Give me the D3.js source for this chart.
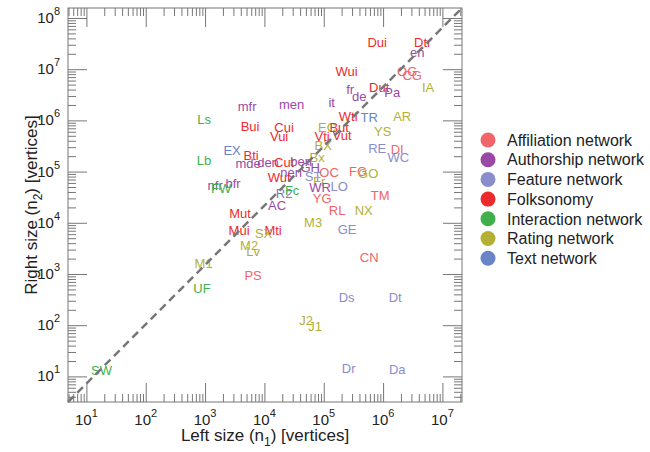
<!DOCTYPE html>
<html>
<head>
<meta charset="utf-8">
<script src="https://cdn.jsdelivr.net/npm/d3@7"></script>
<style>
  body { margin: 0; background: #fff; }
  svg { font-family: "Liberation Sans", Arial, Helvetica, sans-serif; }
</style>
</head>
<body>
<svg id="chart" width="650" height="452"></svg>
<script>
// network categories (legend order)
const categories = ["Affiliation network", "Authorship network", "Feature network",
                    "Folksonomy", "Interaction network", "Rating network", "Text network"];

// dataset codes, left size n1, right size n2, category index
const labels = ["Dui", "Dtr", "en", "OG", "CG", "IA", "Wui", "Dut", "Pa", "fr", "de", "it",
                "men", "mfr", "Ls", "Bui", "Cui", "Vui", "Wti", "TR", "AR", "YS", "EC", "But",
                "Vti", "Vut", "BX", "RE", "DI", "WC", "EX", "Lb", "Bti", "mde", "den", "Cut",
                "ben", "GH", "Bx", "nen", "Wut", "FG", "GO", "OC", "ST", "Fr", "WR", "LO",
                "YG", "TM", "RL", "NX", "M3", "GE", "CN", "Ds", "Dt", "J2", "J1", "Dr",
                "Da", "AC", "R2", "Fc", "bfr", "nfr", "FW", "Mut", "Mui", "Mti", "SX", "M2",
                "Lv", "M1", "UF", "PS", "SW"];
const leftSize = [7.96e5, 4.66e6, 3.76e6, 2.55e6, 3.10e6, 5.75e6, 2.43e5, 8.59e5, 1.43e6, 2.79e5, 3.95e5, 1.36e5,
                  2.88e4, 5.11e3, 962, 5.74e3, 2.15e4, 1.77e4, 2.58e5, 5.83e5, 2.10e6, 9.84e5, 1.14e5, 1.82e5,
                  9.40e4, 2.04e5, 9.77e4, 7.96e5, 1.73e6, 1.80e6, 2.85e3, 962, 5.97e3, 5.31e3, 1.15e4, 2.15e4,
                  4.16e4, 5.90e4, 7.74e4, 2.82e4, 1.77e4, 3.80e5, 5.61e5, 1.23e5, 6.62e4, 8.36e4, 8.69e4, 1.82e5,
                  9.40e4, 8.93e5, 1.68e5, 4.71e5, 6.62e4, 2.48e5, 5.83e5, 2.43e5, 1.60e6, 5.05e4, 7.16e4, 2.63e5,
                  1.73e6, 1.64e4, 2.15e4, 2.93e4, 2.97e3, 1.48e3, 1.86e3, 3.89e3, 3.74e3, 1.40e4, 9.70e3, 5.52e3,
                  6.44e3, 944, 889, 6.44e3, 18];
const rightSize = [3.32e7, 3.32e7, 2.12e7, 9.23e6, 7.53e6, 4.49e6, 9.23e6, 4.40e6, 3.59e6, 4.10e6, 3.00e6, 2.24e6,
                   2.09e6, 1.87e6, 1.06e6, 7.60e5, 7.26e5, 4.95e5, 1.19e6, 1.16e6, 1.19e6, 6.21e5, 7.43e5, 7.26e5,
                   4.95e5, 5.19e5, 3.31e5, 2.83e5, 2.70e5, 1.88e5, 2.64e5, 1.65e5, 2.11e5, 1.47e5, 1.54e5, 1.54e5,
                   1.61e5, 1.20e5, 1.88e5, 9.82e4, 7.85e4, 1.00e5, 9.39e4, 9.82e4, 8.02e4, 6.55e4, 5.00e4, 5.23e4,
                   3.05e4, 3.49e4, 1.78e4, 1.74e4, 1.04e4, 7.57e3, 2.15e3, 356, 356, 127, 94.4, 14.3,
                   14.0, 2.18e4, 3.82e4, 4.38e4, 5.86e4, 5.36e4, 4.70e4, 1.55e4, 7.23e3, 7.23e3, 6.32e3, 3.68e3,
                   2.81e3, 1.61e3, 521, 955, 13.3];
const networkType = [3, 3, 1, 0, 0, 5, 3, 3, 1, 1, 1, 1,
                     1, 1, 4, 3, 3, 3, 3, 6, 5, 5, 5, 3,
                     3, 3, 5, 2, 0, 2, 6, 4, 3, 1, 1, 3,
                     1, 1, 5, 1, 3, 0, 5, 0, 2, 5, 1, 2,
                     0, 0, 0, 5, 5, 2, 0, 2, 2, 5, 5, 2,
                     2, 1, 6, 4, 1, 1, 4, 3, 3, 3, 5, 5,
                     5, 5, 4, 0, 4];

// axis extents (vertices)
const xExtent = [Math.pow(10, 0.69), Math.pow(10, 7.33)];
const yExtent = [Math.pow(10, 0.5), Math.pow(10, 8.195)];

const colors = ["#f0646a", "#9a48a6", "#8a8ccc", "#ec2a2c", "#3fb04b", "#b3af33", "#6a84c8"];

const pLeft = 68, pRight = 462, pTop = 8, pBottom = 402;
const svg = d3.select("#chart");

let x = d3.scaleLog().domain(xExtent).range([pLeft, pRight]);
let y = d3.scaleLog().domain(yExtent).range([pBottom, pTop]);

const isMajor = v => Math.abs(Math.log10(v) - Math.round(Math.log10(v))) < 1e-9;
let xTicks = x.ticks(), yTicks = y.ticks();
let xMajor = xTicks.filter(isMajor), xMinor = xTicks.filter(v => !isMajor(v));
let yMajor = yTicks.filter(isMajor), yMinor = yTicks.filter(v => !isMajor(v));

// ticks on all four sides, pointing inwards
function tickAxis(gen, scale, vals, size, tr) {
    let g = svg.append("g").attr("transform", tr)
               .call(gen(scale).tickValues(vals).tickSize(-size).tickSizeOuter(0).tickFormat(""));
    g.select(".domain").remove();
    g.selectAll("line").attr("stroke", "#777").attr("stroke-width", 1);
}
tickAxis(d3.axisBottom, x, xMinor, 8, `translate(0,${pBottom})`);
tickAxis(d3.axisBottom, x, xMajor, 19, `translate(0,${pBottom})`);
tickAxis(d3.axisTop, x, xMinor, 8, `translate(0,${pTop})`);
tickAxis(d3.axisTop, x, xMajor, 19, `translate(0,${pTop})`);
tickAxis(d3.axisLeft, y, yMinor, 8, `translate(${pLeft},0)`);
tickAxis(d3.axisLeft, y, yMajor, 19, `translate(${pLeft},0)`);
tickAxis(d3.axisRight, y, yMinor, 8, `translate(${pRight},0)`);
tickAxis(d3.axisRight, y, yMajor, 19, `translate(${pRight},0)`);

svg.append("rect")
   .attr("x", pLeft).attr("y", pTop)
   .attr("width", pRight - pLeft).attr("height", pBottom - pTop)
   .attr("fill", "none").attr("stroke", "#777").attr("stroke-width", 1);

// tick labels 10^k
let xl = svg.append("g").selectAll("text").data(xMajor).enter().append("text")
            .attr("x", d => x(d)).attr("y", 425)
            .attr("text-anchor", "middle").attr("font-size", 15).attr("fill", "#222");
xl.append("tspan").text("10");
xl.append("tspan").attr("dy", -8).attr("font-size", 11).text(d => Math.round(Math.log10(d)));

let yl = svg.append("g").selectAll("text").data(yMajor).enter().append("text")
            .attr("x", 60).attr("y", d => y(d) + 5)
            .attr("text-anchor", "end").attr("font-size", 15).attr("fill", "#222");
yl.append("tspan").text("10");
yl.append("tspan").attr("dy", -8).attr("font-size", 11).text(d => Math.round(Math.log10(d)));

// axis titles
let xt = svg.append("text").attr("x", (pLeft + pRight) / 2).attr("y", 441)
            .attr("text-anchor", "middle").attr("font-size", 17).attr("fill", "#222");
xt.append("tspan").text("Left size (n");
xt.append("tspan").attr("dy", 5).attr("font-size", 12).text("1");
xt.append("tspan").attr("dy", -5).text(") [vertices]");

let yt = svg.append("text")
            .attr("transform", `translate(37,${(pTop + pBottom) / 2}) rotate(-90)`)
            .attr("text-anchor", "middle").attr("font-size", 17).attr("fill", "#222");
yt.append("tspan").text("Right size (n");
yt.append("tspan").attr("dy", 5).attr("font-size", 12).text("2");
yt.append("tspan").attr("dy", -5).text(") [vertices]");

// dataset labels
svg.append("g").selectAll("text")
   .data(labels.map((d, i) => ({label: d, n1: leftSize[i], n2: rightSize[i], t: networkType[i]})))
   .enter().append("text")
   .attr("x", d => x(d.n1)).attr("y", d => y(d.n2))
   .attr("dy", "0.36em")
   .attr("text-anchor", "middle").attr("font-size", 13)
   .attr("fill", d => colors[d.t])
   .text(d => d.label);

// diagonal reference line
svg.append("line")
   .attr("x1", x(xExtent[0])).attr("y1", y(yExtent[0]))
   .attr("x2", x(xExtent[1])).attr("y2", y(yExtent[1]))
   .attr("stroke", "#777").attr("stroke-width", 2.5)
   .attr("stroke-dasharray", "8,5");

// legend
let lg = svg.append("g").selectAll("g").data(categories).enter().append("g")
            .attr("transform", (d, i) => `translate(488,${140 + i * 19.7})`);
lg.append("circle").attr("r", 7.5).attr("fill", (d, i) => colors[i]);
lg.append("text").attr("x", 19).attr("dy", "0.36em")
  .attr("font-size", 16).attr("fill", "#222").text(d => d);
</script>
</body>
</html>
